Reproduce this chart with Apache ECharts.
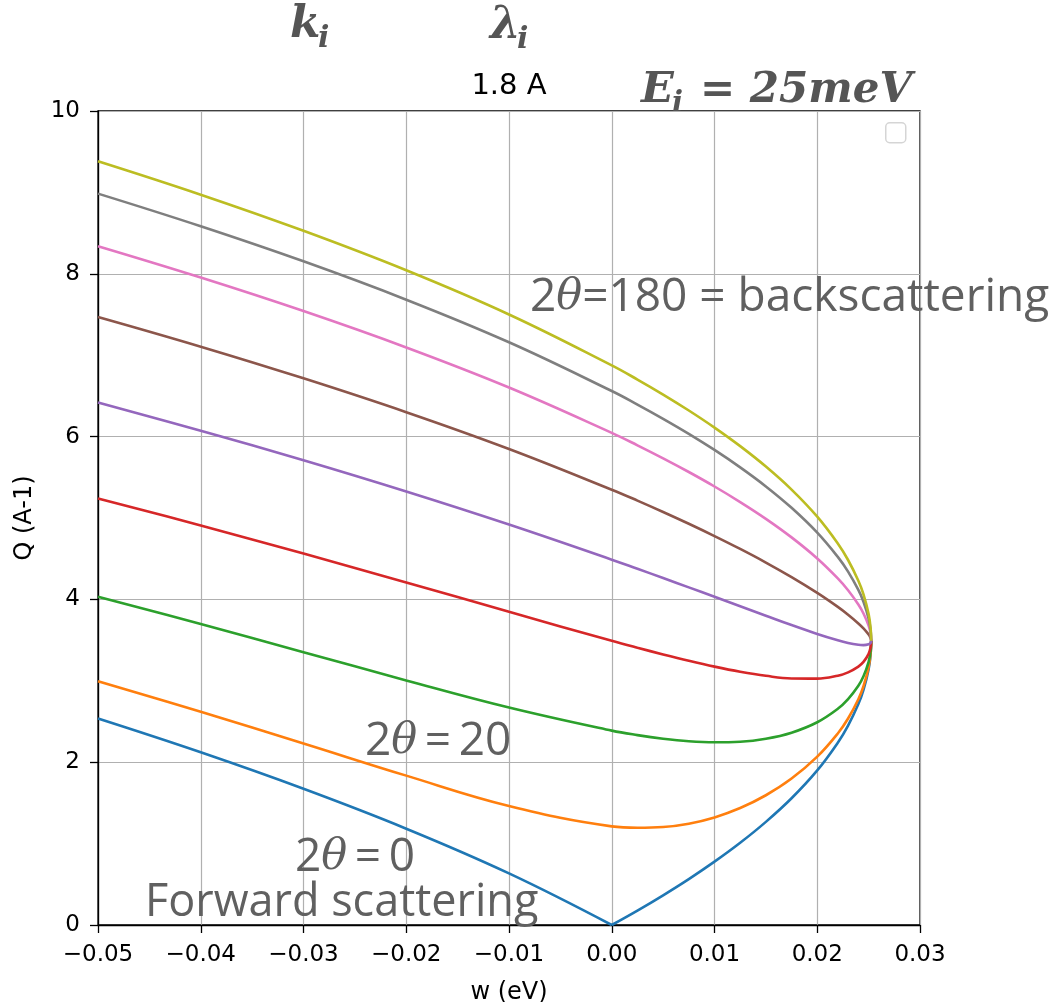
<!DOCTYPE html>
<html>
<head>
<meta charset="utf-8">
<script src="https://cdn.jsdelivr.net/npm/echarts/dist/echarts.min.js"></script>
<style>
  html, body { margin: 0; padding: 0; background: #fff; }
  #q-chart { width: 1063px; height: 1002px; }
</style>
</head>
<body>
<div id="q-chart"></div>
<script>
// energy transfer w (eV)
var wValues = [-0.05, -0.04, -0.03, -0.02, -0.01, 0, 0.0025, 0.005, 0.0075, 0.01, 0.0125, 0.015, 0.0175, 0.02, 0.022, 0.023, 0.024, 0.0245, 0.025, 0.0252, 0.02525];
// Q (A-1) for each scattering angle 2theta = 0, 20, ... 160
var q0   = [2.536, 2.121, 1.673, 1.183, 0.634, 0, 0.177, 0.365, 0.564, 0.778, 1.010, 1.267, 1.557, 1.899, 2.239, 2.449, 2.714, 2.889, 3.143, 3.336, 3.491];
var q20  = [2.994, 2.619, 2.230, 1.835, 1.462, 1.212, 1.195, 1.204, 1.245, 1.322, 1.437, 1.594, 1.799, 2.068, 2.353, 2.537, 2.774, 2.933, 3.167, 3.345, 3.491];
var q40  = [4.034, 3.697, 3.352, 3.005, 2.672, 2.388, 2.333, 2.289, 2.258, 2.245, 2.252, 2.289, 2.363, 2.491, 2.656, 2.775, 2.939, 3.055, 3.232, 3.373, 3.491];
var q60  = [5.241, 4.908, 4.563, 4.209, 3.847, 3.491, 3.406, 3.324, 3.246, 3.174, 3.111, 3.061, 3.029, 3.027, 3.063, 3.104, 3.175, 3.232, 3.331, 3.416, 3.491];
var q80  = [6.419, 6.073, 5.709, 5.325, 4.919, 4.488, 4.376, 4.263, 4.148, 4.032, 3.916, 3.800, 3.685, 3.576, 3.498, 3.465, 3.442, 3.438, 3.448, 3.467, 3.491];
var q100 = [7.470, 7.105, 6.716, 6.300, 5.848, 5.348, 5.214, 5.074, 4.929, 4.778, 4.620, 4.453, 4.274, 4.080, 3.908, 3.812, 3.705, 3.644, 3.568, 3.521, 3.491];
var q120 = [8.339, 7.954, 7.542, 7.095, 6.603, 6.046, 5.893, 5.733, 5.565, 5.387, 5.196, 4.990, 4.762, 4.503, 4.258, 4.112, 3.937, 3.827, 3.677, 3.571, 3.491];
var q140 = [8.985, 8.584, 8.153, 7.682, 7.159, 6.560, 6.394, 6.219, 6.034, 5.836, 5.622, 5.388, 5.125, 4.820, 4.522, 4.341, 4.116, 3.971, 3.764, 3.611, 3.491];
var q160 = [9.383, 8.972, 8.528, 8.043, 7.500, 6.875, 6.701, 6.517, 6.321, 6.111, 5.883, 5.632, 5.349, 5.016, 4.687, 4.484, 4.229, 4.061, 3.819, 3.637, 3.491];

var curves = [q0, q20, q40, q60, q80, q100, q120, q140, q160];
var colors = ['#1f77b4', '#ff7f0e', '#2ca02c', '#d62728', '#9467bd', '#8c564b', '#e377c2', '#7f7f7f', '#bcbd22'];

var myChart = echarts.init(document.getElementById('q-chart'), null, {renderer: 'canvas'});

function pairs(ys, from, to) {
    var out = [];
    for (var i = from; i < to; i++) out.push([wValues[i], ys[i]]);
    return out;
}

var zeroIdx = wValues.indexOf(0);
var series = [];
curves.forEach(function (ys, k) {
    var base = {
        type: 'line',
        smooth: 0.4,
        showSymbol: false,
        lineStyle: {color: colors[k], width: 2.6},
        itemStyle: {color: colors[k]},
        z: 2 + k
    };
    if (k === 0) {
        // forward scattering has a cusp at w = 0, draw both sides separately
        series.push(Object.assign({}, base, {data: pairs(ys, 0, zeroIdx + 1)}));
        series.push(Object.assign({}, base, {data: pairs(ys, zeroIdx, wValues.length)}));
    } else {
        series.push(Object.assign({}, base, {data: pairs(ys, 0, wValues.length)}));
    }
});

var grayTxt = '#606060';
var mathGray = '#555';
var richAnno = {
    n: {fontFamily: 'Open Sans', fontSize: 46, fill: grayTxt},
    t: {fontFamily: 'DejaVu Serif', fontStyle: 'italic', fontSize: 43, fill: grayTxt}
};

var option = {
    animation: false,
    backgroundColor: '#fff',
    grid: {
        left: 98, right: 143, top: 111, bottom: 77,
        outerBoundsMode: 'none',
        containLabel: false,
        show: true, borderColor: '#000', borderWidth: 1.3
    },
    xAxis: {
        type: 'value',
        min: -0.05, max: 0.03, interval: 0.01,
        name: 'w (eV)',
        nameLocation: 'middle',
        nameGap: 56,
        nameTextStyle: {fontFamily: 'DejaVu Sans', fontSize: 24, color: '#000'},
        axisLine: {show: true, onZero: false, lineStyle: {color: '#000', width: 1.3}},
        axisTick: {show: true, length: 8, lineStyle: {color: '#000', width: 1.3}},
        axisLabel: {
            margin: 19,
            fontFamily: 'DejaVu Sans', fontSize: 23, color: '#000',
            formatter: function (v) { return v.toFixed(2).replace('-', '\u2212'); }
        },
        splitLine: {show: true, lineStyle: {color: '#b0b0b0', width: 1.2}}
    },
    yAxis: {
        type: 'value',
        min: 0, max: 10, interval: 2,
        name: 'Q (A-1)',
        nameLocation: 'middle',
        nameGap: 61,
        nameTextStyle: {fontFamily: 'DejaVu Sans', fontSize: 24, color: '#000'},
        axisLine: {show: true, onZero: false, lineStyle: {color: '#000', width: 1.3}},
        axisTick: {show: true, length: 8, lineStyle: {color: '#000', width: 1.3}},
        axisLabel: {margin: 18, fontFamily: 'DejaVu Sans', fontSize: 23, color: '#000'},
        splitLine: {show: true, lineStyle: {color: '#b0b0b0', width: 1.2}}
    },
    graphic: [
        // empty legend box
        {type: 'rect', left: 885, top: 122, shape: {width: 20, height: 20, r: 4},
         style: {fill: '#fff', stroke: '#d5d5d5', lineWidth: 1.5}, z: 20},
        // k_i
        {type: 'text', x: 290, y: 26, style: {text: 'k', font: 'italic bold 44px "DejaVu Serif"', fill: mathGray, verticalAlign: 'middle'}},
        {type: 'text', x: 318, y: 39, style: {text: 'i', font: 'italic bold 30px "DejaVu Serif"', fill: mathGray, verticalAlign: 'middle'}},
        // lambda_i
        {type: 'text', x: 490, y: 27, style: {text: '\u03bb', font: 'italic bold 44px "DejaVu Serif"', fill: mathGray, verticalAlign: 'middle'}},
        {type: 'text', x: 517, y: 40, style: {text: 'i', font: 'italic bold 30px "DejaVu Serif"', fill: mathGray, verticalAlign: 'middle'}},
        {type: 'text', x: 509, y: 86, style: {text: '1.8 A', font: '29px "DejaVu Sans"', fill: '#000', align: 'center', verticalAlign: 'middle'}},
        // E_i = 25meV
        {type: 'text', x: 641, y: 91, style: {text: 'E', font: 'italic bold 43px "DejaVu Serif"', fill: mathGray, verticalAlign: 'middle'}},
        {type: 'text', x: 672, y: 104, style: {text: 'i', font: 'italic bold 29px "DejaVu Serif"', fill: mathGray, verticalAlign: 'middle'}},
        {type: 'text', x: 700, y: 91, style: {text: '= 25meV', font: 'italic bold 42px "DejaVu Serif"', fill: mathGray, verticalAlign: 'middle'}},
        // annotations
        {type: 'text', x: 530, y: 298, z: 30, style: {
            text: '{n|2}{t|\u03b8}{n|=180 = backscattering}', verticalAlign: 'middle', rich: richAnno
        }},
        {type: 'text', x: 365, y: 742, z: 30, style: {
            text: '{n|2}{t|\u03b8}{n|\u2009=\u200920}', verticalAlign: 'middle', rich: richAnno
        }},
        {type: 'text', x: 295, y: 858, z: 30, style: {
            text: '{n|2}{t|\u03b8}{n|\u2009=\u20090}', verticalAlign: 'middle', rich: richAnno
        }},
        {type: 'text', x: 145, y: 903, z: 30, style: {
            text: 'Forward scattering', font: '45px "Open Sans"', fill: grayTxt, verticalAlign: 'middle'
        }}
    ],
    series: series
};

if (option && typeof option === 'object') {
    myChart.setOption(option, true);
}
</script>
</body>
</html>
